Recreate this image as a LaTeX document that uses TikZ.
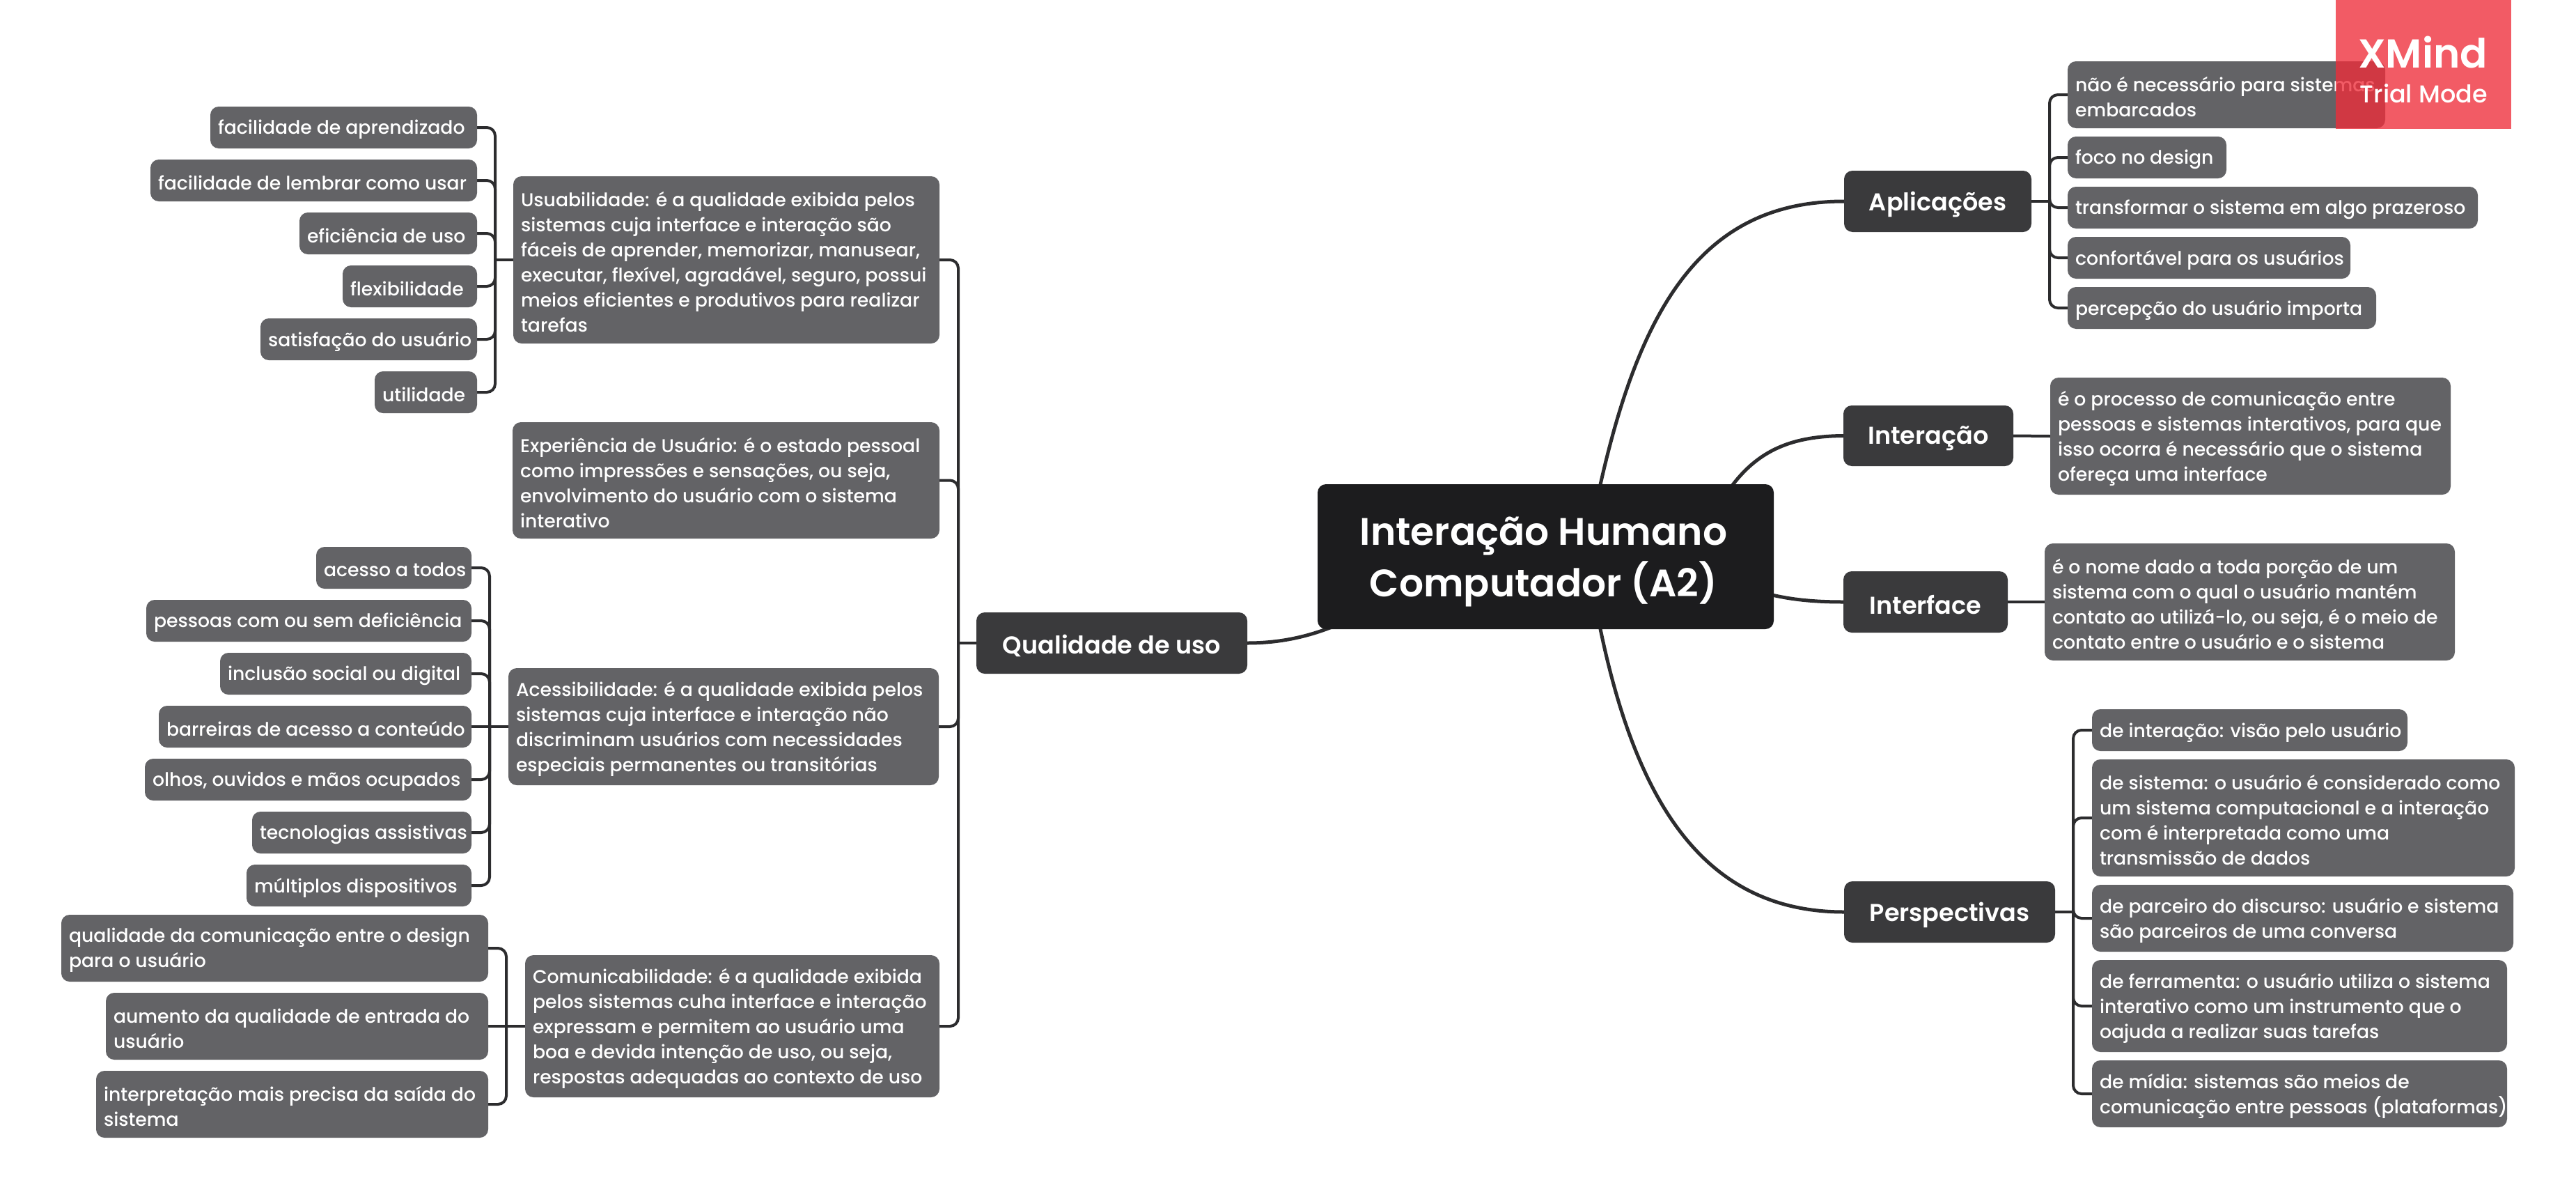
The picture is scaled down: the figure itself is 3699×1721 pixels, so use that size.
\documentclass[tikz,border=0pt]{standalone}
\usepackage{fontspec}
\setmainfont{Poppins Medium}[BoldFont={Poppins SemiBold}]
\usetikzlibrary{backgrounds}
\definecolor{rootc}{HTML}{1C1C1E}
\definecolor{mainc}{HTML}{3A3A3C}
\definecolor{leafc}{HTML}{636366}
\definecolor{linec}{HTML}{2C2C2E}
\definecolor{markc}{RGB}{239,45,58}
\tikzset{
  anybox/.style={rounded corners=12pt,inner sep=0pt,outer sep=0pt},
  anytext/.style={inner sep=0pt,outer sep=0pt,text=white,align=left,yshift=-4pt},
  rootbox/.style={anybox,fill=rootc},
  roottext/.style={anytext,align=center,yshift=-3pt,xshift=-3pt,font=\fontsize{55}{74}\selectfont\bfseries},
  mainbox/.style={anybox,fill=mainc},
  maintext/.style={anytext,align=center,font=\fontsize{35}{42}\selectfont\bfseries},
  leafbox/.style={anybox,fill=leafc},
  leaftext/.style={inner sep=0pt,outer sep=0pt,text=white,align=left,anchor=west,xshift=11pt,yshift=-3pt,font=\fontsize{26.7}{36}\selectfont},
  link/.style={draw=linec,line width=4pt},
  elbow/.style={link,rounded corners=12pt},
  curvelink/.style={draw=linec,line width=5pt}
}
\def\leafkind{leaf}
\newcommand{\boxnode}[7]{%
  \pgfmathsetmacro\bcx{(#3+#5)/2}\pgfmathsetmacro\bcy{(#4+#6)/2}%
  \pgfmathsetmacro\bw{#5-#3}\pgfmathsetmacro\bh{#6-#4}%
  \def\thiskind{#1}%
  \node[#1box,minimum width=\bw pt,minimum height=\bh pt] (#2) at (\bcx,\bcy) {};
  \ifx\thiskind\leafkind
    \node[leaftext] (#2t) at (#2.west) {#7};
  \else
    \node[#1text] (#2t) at (#2.center) {#7};
  \fi}
\begin{document}
\begin{tikzpicture}[x=1pt,y=-1pt]
\useasboundingbox (0,0) rectangle (3699,1721);
% root and main topics
\boxnode{root}{root}{1892}{695}{2547}{903}{Interação Humano\\Computador (A2)}
\boxnode{main}{qual}{1402}{879}{1791}{967}{Qualidade de uso}
\boxnode{main}{aplic}{2648}{245}{2917}{333}{Aplicações}
\boxnode{main}{inter}{2647}{582}{2891}{669}{Interação}
\boxnode{main}{iface}{2647}{820}{2883}{908}{Interface}
\boxnode{main}{persp}{2648}{1265}{2951}{1353}{Perspectivas}
% Aplicações
\boxnode{leaf}{a1}{2969}{88}{3425}{184}{não é necessário para sistemas\\embarcados}
\boxnode{leaf}{a2}{2969}{196}{3197}{256}{foco no design}
\boxnode{leaf}{a3}{2969}{268}{3558}{328}{transformar o sistema em algo prazeroso}
\boxnode{leaf}{a4}{2969}{340}{3375}{400}{confortável para os usuários}
\boxnode{leaf}{a5}{2969}{412}{3412}{472}{percepção do usuário importa}
% Interação, Interface
\boxnode{leaf}{intertxt}{2944}{542}{3519}{710}{é o processo de comunicação entre\\pessoas e sistemas interativos, para que\\isso ocorra é necessário que o sistema\\ofereça uma interface}
\boxnode{leaf}{ifacetxt}{2936}{780}{3525}{948}{é o nome dado a toda porção de um\\sistema com o qual o usuário mantém\\contato ao utilizá-lo, ou seja, é o meio de\\contato entre o usuário e o sistema}
% Perspectivas
\boxnode{leaf}{p1}{3004}{1018}{3457}{1078}{de interação: visão pelo usuário}
\boxnode{leaf}{p2}{3004}{1090}{3611}{1258}{de sistema: o usuário é considerado como\\um sistema computacional e a interação\\com é interpretada como uma\\transmissão de dados}
\boxnode{leaf}{p3}{3004}{1270}{3609}{1366}{de parceiro do discurso: usuário e sistema\\são parceiros de uma conversa}
\boxnode{leaf}{p4}{3004}{1378}{3600}{1510}{de ferramenta: o usuário utiliza o sistema\\interativo como um instrumento que o\\oajuda a realizar suas tarefas}
\boxnode{leaf}{p5}{3004}{1522}{3600}{1618}{de mídia: sistemas são meios de\\comunicação entre pessoas (plataformas)}
% Qualidade children
\boxnode{leaf}{usab}{737}{253}{1349}{493}{Usuabilidade: é a qualidade exibida pelos\\sistemas cuja interface e interação são\\fáceis de aprender, memorizar, manusear,\\executar, flexível, agradável, seguro, possui\\meios eficientes e produtivos para realizar\\tarefas}
\boxnode{leaf}{exper}{736}{606}{1349}{773}{Experiência de Usuário: é o estado pessoal\\como impressões e sensações, ou seja,\\envolvimento do usuário com o sistema\\interativo}
\boxnode{leaf}{acess}{730}{959}{1348}{1127}{Acessibilidade: é a qualidade exibida pelos\\sistemas cuja interface e interação não\\discriminam usuários com necessidades\\especiais permanentes ou transitórias}
\boxnode{leaf}{comun}{754}{1371}{1349}{1575}{Comunicabilidade: é a qualidade exibida\\pelos sistemas cuha interface e interação\\expressam e permitem ao usuário uma\\boa e devida intenção de uso, ou seja,\\respostas adequadas ao contexto de uso}
% Usabilidade leaves
\boxnode{leaf}{u1}{302}{153}{685}{213}{facilidade de aprendizado}
\boxnode{leaf}{u2}{216}{229}{685}{289}{facilidade de lembrar como usar}
\boxnode{leaf}{u3}{430}{305}{685}{365}{eficiência de uso}
\boxnode{leaf}{u4}{492}{381}{685}{441}{flexibilidade}
\boxnode{leaf}{u5}{374}{457}{685}{517}{satisfação do usuário}
\boxnode{leaf}{u6}{538}{533}{685}{593}{utilidade}
% Acessibilidade leaves
\boxnode{leaf}{c1}{454}{785}{677}{845}{acesso a todos}
\boxnode{leaf}{c2}{210}{861}{677}{921}{pessoas com ou sem deficiência}
\boxnode{leaf}{c3}{316}{937}{677}{997}{inclusão social ou digital}
\boxnode{leaf}{c4}{228}{1013}{677}{1073}{barreiras de acesso a conteúdo}
\boxnode{leaf}{c5}{208}{1089}{677}{1149}{olhos, ouvidos e mãos ocupados}
\boxnode{leaf}{c6}{362}{1165}{677}{1225}{tecnologias assistivas}
\boxnode{leaf}{c7}{354}{1241}{677}{1301}{múltiplos dispositivos}
% Comunicabilidade leaves
\boxnode{leaf}{m1}{88}{1313}{701}{1409}{qualidade da comunicação entre o design\\para o usuário}
\boxnode{leaf}{m2}{152}{1425}{701}{1521}{aumento da qualidade de entrada do\\usuário}
\boxnode{leaf}{m3}{138}{1537}{701}{1633}{interpretação mais precisa da saída do\\sistema}
% spine positions and curve starts
\coordinate (sq) at (1376,0);
\coordinate (su) at (711,0);
\coordinate (sc) at (703,0);
\coordinate (sm) at (727,0);
\coordinate (sa) at (2943,0);
\coordinate (sp) at (2977,0);
\coordinate (rootA) at (2297,700);
\coordinate (rootI) at (2485,700);
\coordinate (rootF) at (2540,853);
\coordinate (rootP) at (2297,898);
\coordinate (rootQ) at (1915,899);
\begin{pgfonlayer}{background}
  \fill[white] (0,0) rectangle (3699,1721);
  \draw[curvelink] (rootA) .. controls (2356,435) and (2448,289) .. (aplic.west);
  \draw[curvelink] (rootI) .. controls (2525,645) and (2575,626) .. (inter.west);
  \draw[curvelink] (rootF) .. controls (2570,860) and (2600,864) .. (iface.west);
  \draw[curvelink] (rootP) .. controls (2350,1157) and (2450,1309) .. (persp.west);
  \draw[curvelink] (rootQ) .. controls (1875,915) and (1835,923) .. (qual.east);
  \draw[link] (inter.east) -- (intertxt.west);
  \draw[link] (iface.east) -- (ifacetxt.west);
  % Qualidade
  \draw[link] (qual.west) -- (qual.west -| sq);
  \foreach \n in {usab,exper,acess,comun}
    \draw[elbow] (\n.east) -| (qual.west -| sq);
  % Usabilidade
  \draw[link] (usab.west) -- (usab.west -| su);
  \foreach \n in {u1,u2,u3,u4,u5,u6}
    \draw[elbow] (\n.east) -| (usab.west -| su);
  % Acessibilidade
  \draw[link] (acess.west) -- (acess.west -| sc);
  \foreach \n in {c1,c2,c3,c5,c6,c7}
    \draw[elbow] (\n.east) -| (acess.west -| sc);
  \draw[link] (c4.east) -- (acess.west);
  % Comunicabilidade
  \draw[link] (comun.west) -- (m2.east);
  \foreach \n in {m1,m3}
    \draw[elbow] (\n.east) -| (comun.west -| sm);
  % Aplicações
  \draw[link] (aplic.east) -- (aplic.east -| sa);
  \foreach \n in {a1,a2,a3,a4,a5}
    \draw[elbow] (\n.west) -| (aplic.east -| sa);
  % Perspectivas
  \draw[link] (persp.east) -- (persp.east -| sp);
  \foreach \n in {p1,p2,p3,p4,p5}
    \draw[elbow] (\n.west) -| (persp.east -| sp);
\end{pgfonlayer}
% watermark
\node[fill=markc,fill opacity=.78,inner sep=0pt,outer sep=0pt,minimum width=252pt,minimum height=185pt] (mark) at (3480,92.5) {};
\node[anchor=base east,inner sep=0pt,text=white,font=\fontsize{58}{60}\selectfont\bfseries] (markA) at (3572,97) {XMind};
\node[anchor=base east,inner sep=0pt,text=white,font=\fontsize{35}{40}\selectfont] (markB) at (3572,147) {Trial Mode};
\end{tikzpicture}
\end{document}
